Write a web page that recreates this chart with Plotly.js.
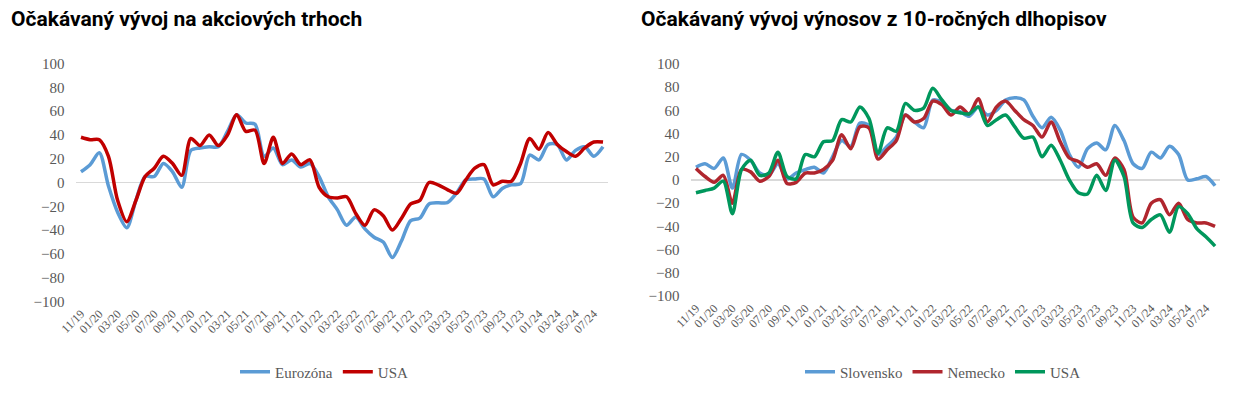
<!DOCTYPE html>
<html>
<head>
<meta charset="utf-8">
<script src="https://cdn.plot.ly/plotly-3.0.1.min.js"></script>
<style>html,body{margin:0;padding:0;background:#fff;}#chart{width:1233px;height:396px;}</style>
</head>
<body>
<div id="chart"></div>
<script>
const months = ["11/19","12/19","01/20","02/20","03/20","04/20","05/20","06/20","07/20","08/20","09/20","10/20","11/20","12/20",
"01/21","02/21","03/21","04/21","05/21","06/21","07/21","08/21","09/21","10/21","11/21","12/21",
"01/22","02/22","03/22","04/22","05/22","06/22","07/22","08/22","09/22","10/22","11/22","12/22",
"01/23","02/23","03/23","04/23","05/23","06/23","07/23","08/23","09/23","10/23","11/23","12/23",
"01/24","02/24","03/24","04/24","05/24","06/24","07/24","08/24"];

const eurozona = [9,15,25,-3,-25,-38,-15,5,5,16, 9,-4,27,29,30,30,43,57,50,49, 22,29,15,19,13,16,5,-12,-23,-36,
 -29,-39,-46,-50,-63,-49,-32,-30,-18,-17, -17,-9,2,3,3,-12,-5,-2,-1,23, 19,32,32,19,27,30,22,30];
const usaAkcie = [38,36,36,22,-15,-33,-15,5,12,22, 16,6,37,31,40,31,40,57,43,44, 16,38,16,24,15,19,-4,-12,-13,-12,
 -26,-36,-23,-28,-40,-30,-18,-15,0,-2, -6,-9,2,12,15,-2,1,1,16,37, 28,42,32,26,22,29,34,34];

const slovensko = [11,14,10,19,-7,22,17,6,4,14, 1,6,9,11,6,20,34,29,49,47, 22,29,37,56,50,45,69,67,60,59,
 55,63,56,60,69,71,69,55,45,54, 43,22,11,27,32,26,47,34,14,10, 24,19,29,22,0,1,3,-5];
const nemecko = [10,3,-2,4,-20,9,7,-1,3,17, -3,-2,6,6,9,17,39,27,46,45, 18,26,34,56,50,53,68,65,56,63,
 57,70,50,63,68,60,52,47,37,50, 33,19,16,11,14,4,19,9,-32,-37, -20,-17,-30,-20,-34,-37,-37,-40];
const usaDlhopisy = [-11,-9,-7,-1,-29,9,17,4,6,24, 3,1,22,20,33,34,52,50,63,53, 23,45,42,66,60,62,79,69,60,58,
 57,63,47,52,56,46,36,37,20,30, 17,0,-11,-12,4,-9,17,3,-37,-41, -34,-30,-45,-23,-29,-42,-49,-57];

const tickLabels = months.filter((m, i) => i % 2 === 0);

const BLUE = '#5B9BD5', RED = '#C00000', DRED = '#B0262E', GREEN = '#00975C';
const serif = 'Liberation Serif';
const txt = '#595959';

function tr(y, name, color, xa, ya, legend) {
  return {x: months, y: y, name: name, type: 'scatter', mode: 'lines',
    line: {color: color, width: 3.5, shape: 'spline', smoothing: 0.8},
    xaxis: xa, yaxis: ya, legend: legend, hoverinfo: 'skip'};
}

const data = [
  tr(eurozona, 'Eurozóna', BLUE, 'x', 'y', 'legend'),
  tr(usaAkcie, 'USA', RED, 'x', 'y', 'legend'),
  tr(slovensko, 'Slovensko', BLUE, 'x2', 'y2', 'legend2'),
  tr(nemecko, 'Nemecko', DRED, 'x2', 'y2', 'legend2'),
  tr(usaDlhopisy, 'USA', GREEN, 'x2', 'y2', 'legend2')
];

const W = 1233, H = 396;
function xax(d0, d1, anchor) {
  return {domain: [d0 / W, d1 / W], anchor: anchor, type: 'category', range: [-0.5, months.length - 0.5],
    tickmode: 'array', tickvals: tickLabels, ticktext: tickLabels, tickangle: -45,
    tickfont: {family: serif, size: 12, color: txt}, showgrid: false, zeroline: false, showline: false,
    ticks: '', ticklabelstandoff: 2, fixedrange: true};
}
function yax(top, bottom, anchor) {
  return {domain: [(H - bottom) / H, (H - top) / H], anchor: anchor, range: [-100, 100], dtick: 20,
    tickfont: {family: serif, size: 15, color: txt}, showgrid: false, zeroline: true,
    zerolinecolor: '#d9d9d9', zerolinewidth: 1.5, showline: false, ticks: '', ticklabelstandoff: 11, fixedrange: true};
}

const layout = {
  width: W, height: H, margin: {l: 0, r: 0, t: 0, b: 0},
  paper_bgcolor: '#ffffff', plot_bgcolor: '#ffffff',
  font: {family: serif, color: txt},
  xaxis: xax(76.4, 607.6, 'y'),
  yaxis: yax(63.5, 301.5, 'x'),
  xaxis2: xax(691.4, 1219.6, 'y2'),
  yaxis2: yax(64, 296, 'x2'),
  legend: {orientation: 'h', x: 324 / W, xanchor: 'center', y: (H - 372) / H, yanchor: 'middle',
    font: {family: serif, size: 15, color: txt}, bgcolor: 'rgba(0,0,0,0)', itemwidth: 30},
  legend2: {orientation: 'h', x: 943 / W, xanchor: 'center', y: (H - 372) / H, yanchor: 'middle',
    font: {family: serif, size: 15, color: txt}, bgcolor: 'rgba(0,0,0,0)', itemwidth: 30},
  annotations: [
    {text: '<b>Očakávaný vývoj na akciových trhoch</b>', xref: 'paper', yref: 'paper', x: 9 / W, xanchor: 'left',
     y: (H - 19) / H, yanchor: 'middle', showarrow: false, font: {family: 'Roboto', size: 21, color: '#000'}},
    {text: '<b>Očakávaný vývoj výnosov z 10-ročných dlhopisov</b>', xref: 'paper', yref: 'paper', x: 639 / W, xanchor: 'left',
     y: (H - 19) / H, yanchor: 'middle', showarrow: false, font: {family: 'Roboto', size: 21, color: '#000'}}
  ],
  showlegend: true
};

Plotly.newPlot('chart', data, layout, {displayModeBar: false, staticPlot: true});
</script>
</body>
</html>
